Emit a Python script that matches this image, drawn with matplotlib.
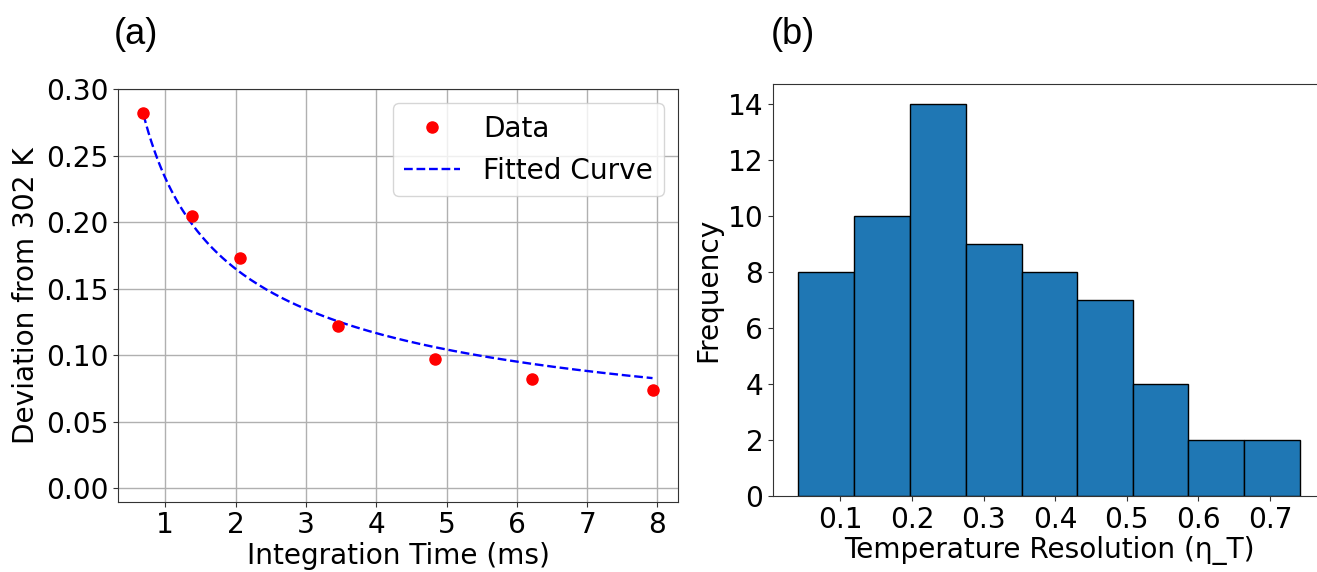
import numpy as np
import matplotlib
matplotlib.use("Agg")
import matplotlib.pyplot as plt

# ---- data ----
integration_time = [0.69, 1.38, 2.07, 3.45, 4.83, 6.21, 7.93]
deviation = [0.282, 0.205, 0.173, 0.122, 0.097, 0.082, 0.074]

hist_edges = [0.041, 0.119, 0.197, 0.275, 0.353, 0.431, 0.509, 0.586, 0.664, 0.742]
hist_counts = [8, 10, 14, 9, 8, 7, 4, 2, 2]

FS = 20.2
SPINE = '#333333'

fig = plt.figure(figsize=(13.17, 5.72), dpi=100)

# ---- panel (a) ----
ax1 = fig.add_axes([0.0896, 0.1229, 0.4252, 0.721])
x = np.array(integration_time)
y = np.array(deviation)
# least-squares fit y = a / sqrt(x)
a = np.sum(y / np.sqrt(x)) / np.sum(1.0 / x)
xf = np.linspace(x.min(), x.max(), 200)
ax1.plot(x, y, 'o', color='red', markersize=8, label='Data', zorder=3)
ax1.plot(xf, a / np.sqrt(xf), '--', color='blue', linewidth=1.7, label='Fitted Curve')
ax1.set_ylim(-0.01, 0.30)
ax1.set_yticks(np.arange(0, 0.31, 0.05))
ax1.set_xticks(range(1, 9))
ax1.grid(True, color='#b0b0b0', linewidth=1)
ax1.set_axisbelow(True)
ax1.set_xlabel('Integration Time (ms)', fontsize=FS, labelpad=2)
ax1.set_ylabel('Deviation from 302 K', fontsize=FS)
ax1.tick_params(labelsize=FS, color=SPINE)
ax1.legend(loc='upper right', fontsize=FS)

# ---- panel (b) ----
ax2 = fig.add_axes([0.587, 0.1329, 0.4192, 0.720])
edges = np.array(hist_edges)
ax2.bar(edges[:-1], hist_counts, width=np.diff(edges), align='edge',
        color='#1f77b4', edgecolor='black', linewidth=1)
ax2.set_xlim(0.006, 0.777)
ax2.set_ylim(0, 14.7)
ax2.set_yticks(range(0, 15, 2))
ax2.set_xticks([0.1, 0.2, 0.3, 0.4, 0.5, 0.6, 0.7])
ax2.set_xlabel('Temperature Resolution (η_T)', fontsize=FS, labelpad=2)
ax2.set_ylabel('Frequency', fontsize=FS)
ax2.tick_params(labelsize=FS, color=SPINE)

for ax in (ax1, ax2):
    for sp in ax.spines.values():
        sp.set_color(SPINE)
# the right frame edge of panel (b) lies outside the cropped figure
ax2.spines['right'].set_visible(False)

# panel labels
fig.text(0.086, 0.94, '(a)', fontsize=26, family=['Liberation Sans', 'DejaVu Sans'],
         va='center', ha='left')
fig.text(0.585, 0.94, '(b)', fontsize=26, family=['Liberation Sans', 'DejaVu Sans'],
         va='center', ha='left')

fig.savefig('out.png', dpi=100)
